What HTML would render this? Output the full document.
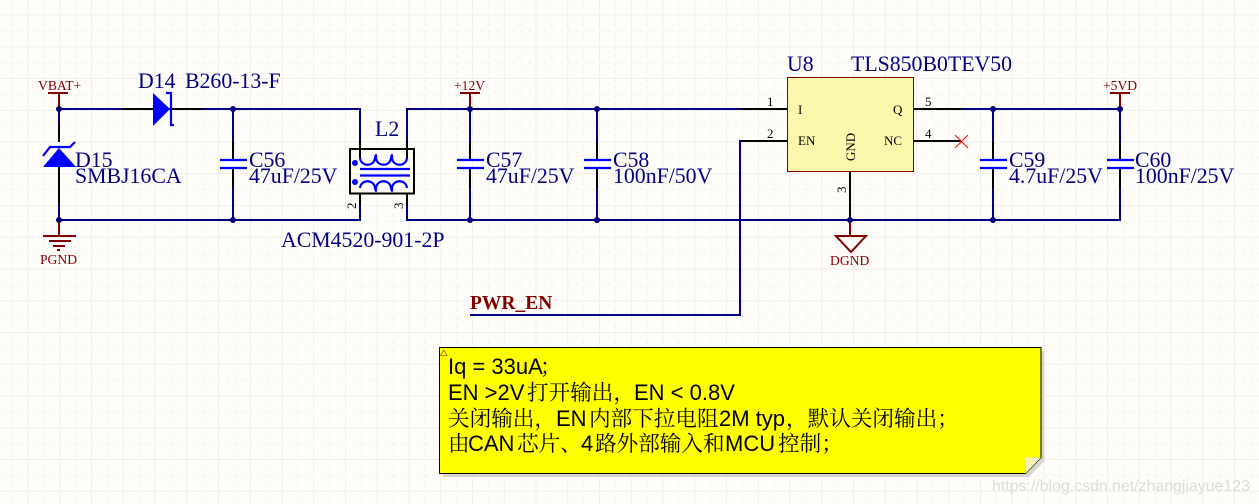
<!DOCTYPE html>
<html><head><meta charset="utf-8"><style>
html,body{margin:0;padding:0;background:#fffdf9;width:1259px;height:504px;overflow:hidden}
svg{display:block}
text{font-family:"Liberation Serif",serif}
.l{font-size:21.800px;fill:#000080}
.p{font-size:13.600px;fill:#800000}
.n{font-size:13px;fill:#000}
.w{stroke:#000080;stroke-width:2;fill:none}
.k{stroke:#000;stroke-width:2;fill:none}
.r{stroke:#800000;stroke-width:2;fill:none}
.b{stroke:#0000ff;stroke-width:2.200;fill:none}
text.t{font-family:"Liberation Sans","Noto Serif CJK SC",sans-serif;font-size:22px;fill:#000}
.t .c{font-size:21.600px}
</style></head><body>
<svg width="1259" height="504" viewBox="0 0 1259 504" xmlns="http://www.w3.org/2000/svg">
<defs>
<pattern id="g" width="31.75" height="31.75" patternUnits="userSpaceOnUse" x="27.5" y="14.5">
<path d="M.5 0V31.75M0 .5H31.75" stroke="#f1efea" stroke-width="1" fill="none"/>
<path d="M16.4 0V31.75M0 16.4H31.75" stroke="#f3f1ec" stroke-width="1" stroke-dasharray="4 4" fill="none"/>
</pattern>
</defs>
<rect width="1259" height="504" fill="#fffdf9"/>
<rect width="1259" height="504" fill="url(#g)"/>

<!-- wires -->
<path class="w" d="M59 109H360V149M59 109V142M59 167V220M59 220H360V193M233 109V160M233 168V220"/>
<path class="w" d="M407 149V109H787M407 193V220H1120V168M470 109V160M470 168V220M597 109V160M597 168V220"/>
<path class="w" d="M787 141H740V315H470"/>
<path class="w" d="M914 109H1120V160M993 109V160M993 168V220"/>

<!-- black pin sections -->
<path class="k" d="M122 109H153M171 109H202M59 125V142M59 167V203"/>
<path class="k" d="M233 142V160M233 168V187M470 142V160M470 168V188M597 142V160M597 168V188M993 142V160M993 168V188M1120 142V160M1120 168V188"/>
<path class="k" d="M360 140V158M407 140V158M360 193V205M407 193V205"/>
<path class="k" d="M741 109H787M741 141H787M914 109H961M914 141H961M850 171V220"/>

<!-- junctions -->
<g fill="#000080">
<circle cx="59" cy="109" r="3"/><circle cx="59" cy="220" r="3"/>
<circle cx="233" cy="109" r="3"/><circle cx="233" cy="220" r="3"/>
<circle cx="470" cy="109" r="3"/><circle cx="470" cy="220" r="3"/>
<circle cx="597" cy="109" r="3"/><circle cx="597" cy="220" r="3"/>
<circle cx="850" cy="220" r="3"/>
<circle cx="993" cy="109" r="3"/><circle cx="993" cy="220" r="3"/>
<circle cx="1120" cy="109" r="3"/>
</g>

<!-- power ports -->
<path class="r" d="M48 93H68M59 93V107M460 93H480M470 93V107M1110 93H1130M1120 93V107"/>
<path class="r" d="M59 222V236M43 236H76M49 241H71M53 246H65M57 250H60"/>
<path class="r" d="M850 222V236M836 236H866L851 252Z"/>
<text class="p" x="38" y="90">VBAT+</text>
<text class="p" x="40" y="264">PGND</text>
<text class="p" x="454" y="90">+12V</text>
<text class="p" x="1103" y="90">+5VD</text>
<text class="p" x="830" y="265">DGND</text>

<!-- D14 -->
<path d="M153 93L170 109L153 126Z" fill="#0000ff"/>
<path class="b" d="M166 93H171V125H174"/>
<!-- D15 -->
<path d="M43 167L59 148L76 167Z" fill="#0000ff"/>
<path class="b" d="M43 156L50 147H70L75 142"/>

<!-- caps -->
<path class="b" d="M220 160H247M220 168H247M457 160H484M457 168H484M584 160H611M584 168H611M980 160H1007M980 168H1007M1107 160H1134M1107 168H1134"/>

<!-- L2 -->
<rect x="350" y="149" width="64" height="44.500" fill="none" stroke="#000" stroke-width="2"/>
<circle cx="355" cy="163" r="3" fill="#0000ff"/><circle cx="355" cy="182" r="3" fill="#0000ff"/>
<path class="b" d="M360 158C361 167 374 167 375 158C376 154 376 154 376 158C377 167 390 167 391 158C392 154 392 154 392 158C393 167 406 167 407 158"/>
<path class="b" d="M360 188C361 179 374 179 375 188C376 192 376 192 376 188C377 179 390 179 391 188C392 192 392 192 392 188C393 179 406 179 407 188"/>
<path class="b" d="M360 169H410M360 175.500H410"/>
<text class="n" transform="translate(356 209) rotate(-90)">2</text>
<text class="n" transform="translate(403 209) rotate(-90)">3</text>

<!-- U8 -->
<rect x="787.500" y="77.500" width="126" height="94" fill="#fbf8ae" stroke="#800000" stroke-width="1"/>
<text class="n" x="767" y="106">1</text>
<text class="n" x="767" y="138">2</text>
<text class="n" x="925" y="106">5</text>
<text class="n" x="925" y="138">4</text>
<text class="n" transform="translate(846 193) rotate(-90)">3</text>
<text class="n" x="798" y="114">I</text>
<text class="n" x="798" y="145">EN</text>
<text class="n" x="893" y="114">Q</text>
<text class="n" x="884" y="145">NC</text>
<text class="n" transform="translate(855 161) rotate(-90)">GND</text>
<path d="M955 135L968 148M968 135L955 148" stroke="#ff0000" stroke-width="1" fill="none"/>

<!-- labels -->
<text class="l" x="138" y="88">D14</text>
<text class="l" x="185" y="88">B260-13-F</text>
<text class="l" x="75" y="167">D15</text>
<text class="l" x="75" y="183">SMBJ16CA</text>
<text class="l" x="249" y="167">C56</text>
<text class="l" x="249" y="183">47uF/25V</text>
<text class="l" x="375" y="136">L2</text>
<text class="l" x="281" y="247">ACM4520-901-2P</text>
<text class="l" x="486" y="167">C57</text>
<text class="l" x="486" y="183">47uF/25V</text>
<text class="l" x="613" y="167">C58</text>
<text class="l" x="613" y="183">100nF/50V</text>
<text class="l" x="787" y="71">U8</text>
<text class="l" x="851" y="71">TLS850B0TEV50</text>
<text class="l" x="1009" y="167">C59</text>
<text class="l" x="1009" y="183">4.7uF/25V</text>
<text class="l" x="1135" y="167">C60</text>
<text class="l" x="1135" y="183">100nF/25V</text>
<text x="470" y="309" font-size="19.500" font-weight="bold" fill="#800000">PWR_EN</text>

<!-- note -->
<path d="M443 351H1044.500V461L1029 477H443Z" fill="#d9d5cc"/>
<path d="M439.500 347.500H1041V457.500L1025.500 473.500H439.500Z" fill="#ffff00" stroke="#000" stroke-width="1"/>
<path d="M1025.500 457.500H1041L1025.500 473.500Z" fill="#f5f2ba"/>
<path d="M440.500 355.500L443.700 350L447 355.500Z" fill="none" stroke="#a06000" stroke-width=".8"/>
<text class="t" y="374"><tspan x="448">Iq = 33uA</tspan><tspan class="c" x="540">；</tspan></text>
<text class="t" y="400"><tspan x="448">EN &gt;2V</tspan><tspan class="c" x="527">打开输出，</tspan><tspan x="634">EN &lt; 0.8V</tspan></text>
<text class="t" y="426"><tspan class="c" x="448">关闭输出，</tspan><tspan x="556">EN</tspan><tspan class="c" x="589">内部下拉电阻</tspan><tspan x="719">2M typ</tspan><tspan class="c" x="786">，默认关闭输出；</tspan></text>
<text class="t" y="451"><tspan class="c" x="448">由</tspan><tspan x="468">CAN</tspan><tspan class="c" x="517">芯片、</tspan><tspan x="581">4</tspan><tspan class="c" x="595">路外部输入和</tspan><tspan x="725">MCU</tspan><tspan class="c" x="778">控制；</tspan></text>

<!-- watermark -->
<text x="992" y="491" font-size="16" fill="#dedcd8" style="font-family:'Liberation Sans',sans-serif" textLength="258">https://blog.csdn.net/zhangjiayue123</text>
</svg>
</body></html>
